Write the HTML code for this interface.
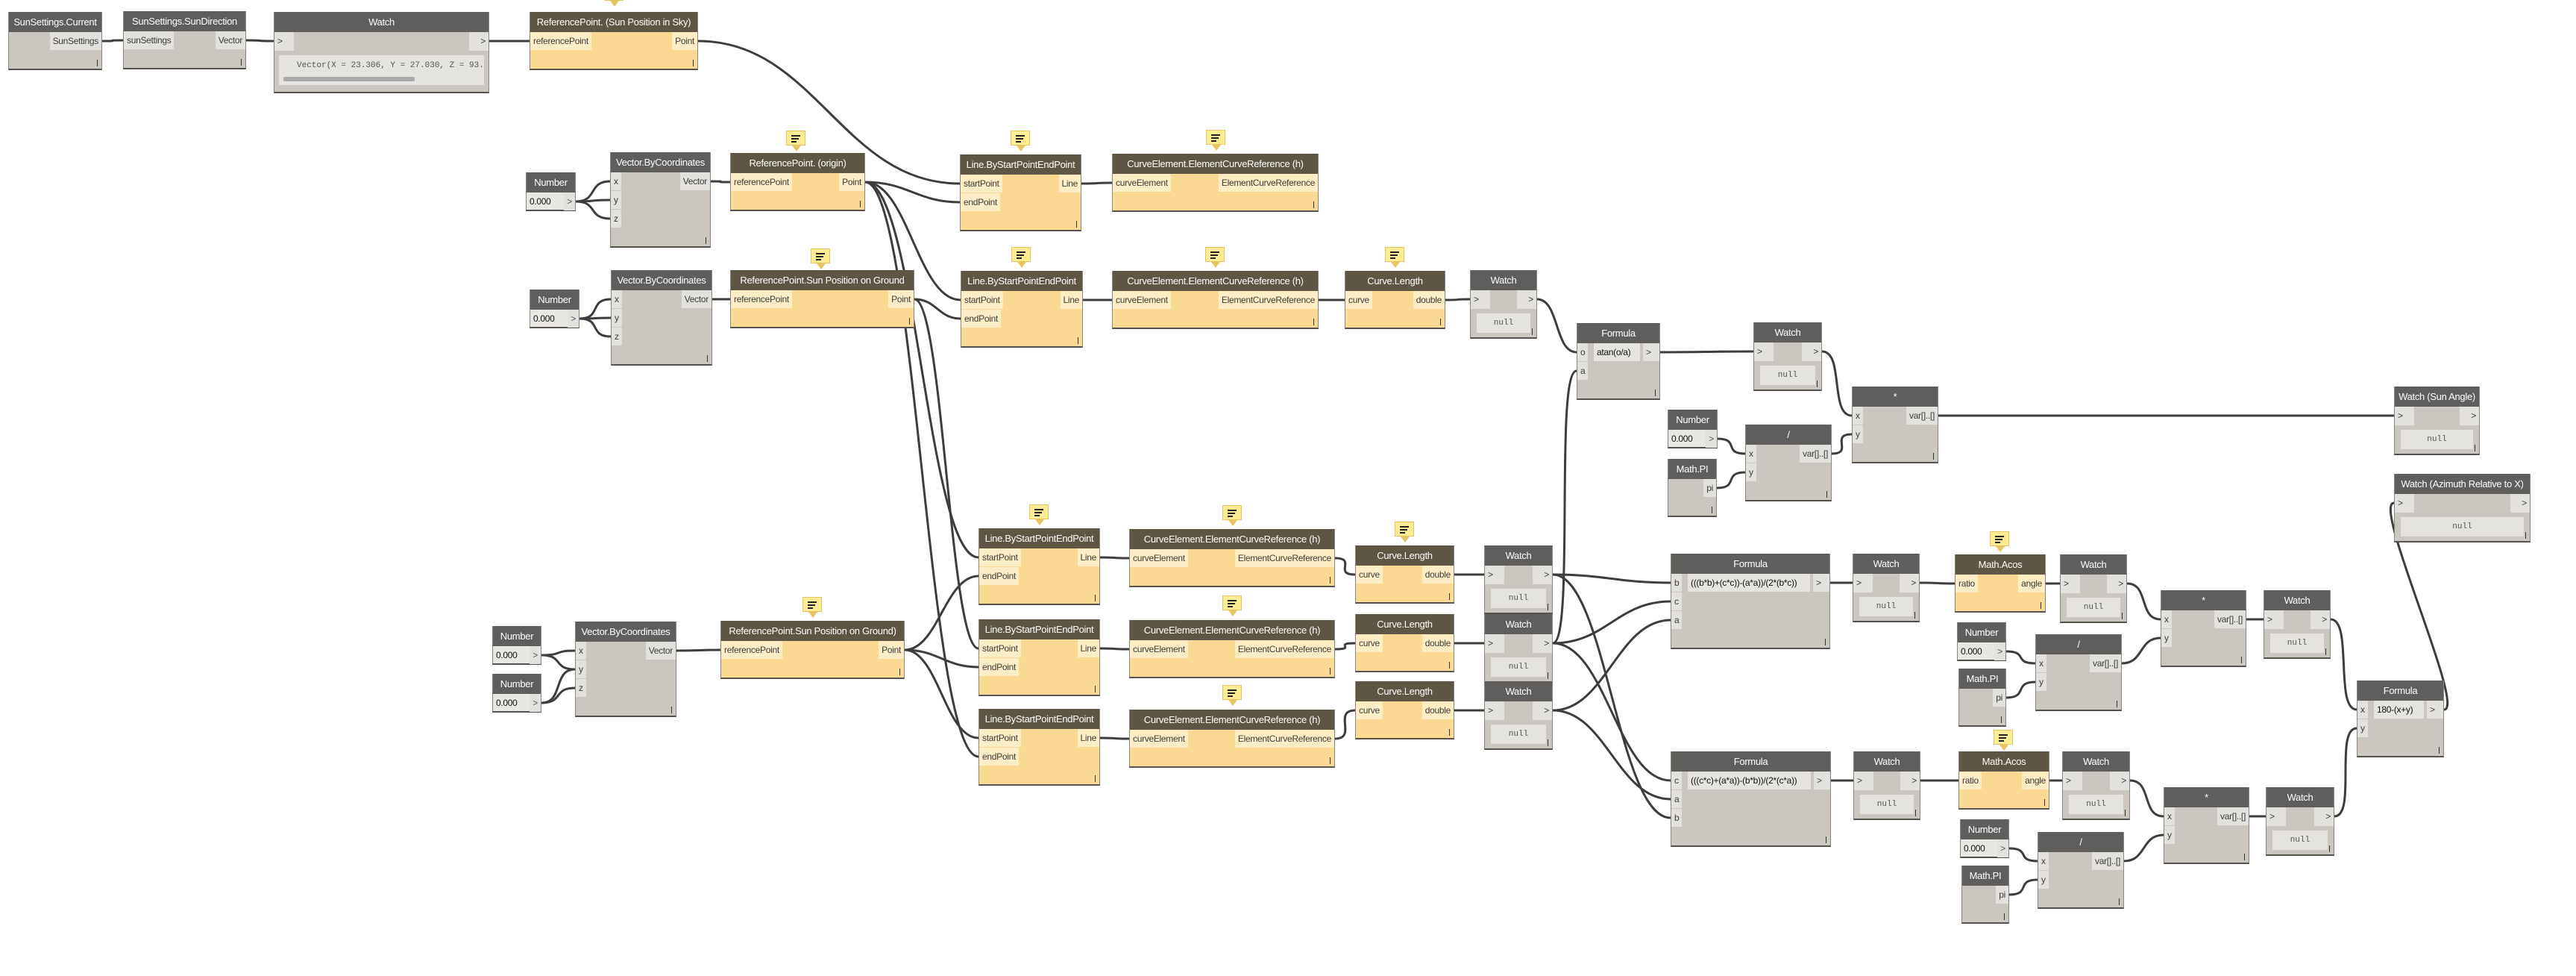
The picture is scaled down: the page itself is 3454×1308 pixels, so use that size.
<!DOCTYPE html>
<html><head><meta charset="utf-8"><style>
html,body{margin:0;padding:0;background:#fff;width:3454px;height:1308px;overflow:hidden;position:relative;font-family:"Liberation Sans",sans-serif}
.n{position:absolute;box-sizing:border-box;border-bottom:2px solid #55524d;border-left:1px solid #8a867f;border-right:1px solid #8a867f}
.n.g{background:#cbc7c0}.n.y{background:#fad993}
.h{position:absolute;left:0;top:0;right:0;height:27px;color:#fff;font-size:13px;line-height:27px;text-align:center;white-space:nowrap;overflow:hidden;letter-spacing:-0.3px}
.g .h{background:#5f5e5c}.y .h{background:#5e5544}
.p{position:absolute;height:24px;line-height:24px;font-size:12px;color:#3c3c3c;padding:0 4px;white-space:nowrap;letter-spacing:-0.3px}
.g .p{background:#e3e1dd}.y .p{background:#fdedc5}
.f{position:absolute;right:5px;bottom:3px;width:1px;height:9px;background:#333}
.nb{position:absolute;background:#e4e3df;font-family:"Liberation Mono",monospace;font-size:11px;color:#555;text-align:center}
.note{position:absolute;width:26px;height:20px;background:#fdec93;border:1px solid #e8c45f;box-sizing:border-box}
.note i{position:absolute;left:6px;width:12px;height:2px;background:#222}
.note:after{content:"";position:absolute;left:7px;top:19px;border-left:6px solid transparent;border-right:6px solid transparent;border-top:8px solid #e8c45f}
svg{position:absolute;left:0;top:0}
</style></head><body>
<svg id="s" width="3454" height="1308"></svg>
<div id="c"></div>
<script>
var N={},H='';
function nd(id,x,y,w,t,c,ins,outs,k,extra){
 var rows=Math.max(ins.length,outs.length,1),h;
 if(k=='num')h=52;else if(k=='watch')h=92;else if(k=='big')h=109;else h=27+25*rows+26;
 N[id]={x:x,y:y,w:w,h:h,k:k};
 var s='<div class="n '+c+'" style="left:'+x+'px;top:'+y+'px;width:'+w+'px;height:'+h+'px"><div class="h">'+t+'</div>';
 ins.forEach(function(l,i){s+='<div class="p" style="left:0;top:'+(27+25*i)+'px">'+l+'</div>'});
 outs.forEach(function(l,i){s+='<div class="p" style="right:0;top:'+(27+25*i)+'px">'+l+'</div>'});
 if(k=='watch'||k=='big'){s+='<div class="p" style="left:0;top:27px;width:18px;height:25px">&gt;</div><div class="p" style="right:0;top:27px;width:18px;height:25px;text-align:right">&gt;</div>';}
 if(k=='watch')s+='<div class="nb" style="left:8px;right:8px;top:58px;height:26px;line-height:26px">null</div>';
 if(k=='big')s+='<div class="nb" style="left:6px;right:6px;top:58px;height:40px;text-align:left;padding-left:24px;line-height:28px;box-sizing:border-box">Vector(X = 23.306, Y = 27.030, Z = 93.<div style="position:absolute;left:6px;top:29px;width:176px;height:6px;background:#aaa;border-radius:2px"></div></div>';
 if(k=='num')s+='<div class="p" style="left:0;top:27px;width:48px;height:23px;background:#e8e7e4;color:#111">'+extra+'</div><div class="p" style="right:0;top:27px;color:#555">&gt;</div>';
 if(k=='form')s+='<div class="p" style="left:22px;top:27px;right:26px;background:#e6e4e0;color:#111">'+extra+'</div><div class="p" style="right:0;top:27px;width:14px">&gt;</div>';
 if(k!='num'&&k!='big')s+='<div class="f"></div>';
 s+='</div>';H+=s;
}
function note(x,y){H+='<div class="note" style="left:'+(x-13)+'px;top:'+y+'px"><i style="top:5px"></i><i style="top:9px;width:10px"></i><i style="top:13px;width:7px"></i></div>';}
var G='g',Y='y',W='watch';
nd('ssc',11,16,126,'SunSettings.Current',G,[],['SunSettings']);
nd('ssd',165,15,165,'SunSettings.SunDirection',G,['sunSettings'],['Vector']);
nd('w1',367,16,289,'Watch',G,[],[],'big');
nd('sky',710,16,226,'ReferencePoint. (Sun Position in Sky)',Y,['referencePoint'],['Point']);
nd('n1',705,231,67,'Number',G,[],[],'num','0.000');
nd('v1',818,204,135,'Vector.ByCoordinates',G,['x','y','z'],['Vector']);
nd('n2',710,388,67,'Number',G,[],[],'num','0.000');
nd('v2',819,362,136,'Vector.ByCoordinates',G,['x','y','z'],['Vector']);
nd('org',979,205,181,'ReferencePoint. (origin)',Y,['referencePoint'],['Point']);
nd('g1',979,362,247,'ReferencePoint.Sun Position on Ground',Y,['referencePoint'],['Point']);
nd('L1',1287,207,163,'Line.ByStartPointEndPoint',Y,['startPoint','endPoint'],['Line']);
nd('CE1',1491,206,277,'CurveElement.ElementCurveReference (h)',Y,['curveElement'],['ElementCurveReference']);
nd('L2',1288,363,164,'Line.ByStartPointEndPoint',Y,['startPoint','endPoint'],['Line']);
nd('CE2',1491,363,277,'CurveElement.ElementCurveReference (h)',Y,['curveElement'],['ElementCurveReference']);
nd('CL2',1803,363,135,'Curve.Length',Y,['curve'],['double']);
nd('W2',1971,362,90,'Watch',G,[],[],W);
nd('F1',2114,433,112,'Formula',G,['o','a'],[],'form','atan(o/a)');
nd('Wa',2351,432,92,'Watch',G,[],[],W);
nd('Na',2236,549,67,'Number',G,[],[],'num','0.000');
nd('Pa',2236,615,66,'Math.PI',G,[],['pi']);
nd('Da',2340,569,116,'/',G,['x','y'],['var[]..[]']);
nd('Ma',2483,518,116,'*',G,['x','y'],['var[]..[]']);
nd('WS',3210,518,115,'Watch (Sun Angle)',G,[],[],W);
nd('WZ',3210,635,183,'Watch (Azimuth Relative to X)',G,[],[],W);
nd('n3',660,839,66,'Number',G,[],[],'num','0.000');
nd('n4',660,903,66,'Number',G,[],[],'num','0.000');
nd('v3',771,833,136,'Vector.ByCoordinates',G,['x','y','z'],['Vector']);
nd('g2',966,832,247,'ReferencePoint.Sun Position on Ground)',Y,['referencePoint'],['Point']);
[708,830,950].forEach(function(yy,i){
 nd('L'+(i+3),1312,yy,163,'Line.ByStartPointEndPoint',Y,['startPoint','endPoint'],['Line']);
 nd('CE'+(i+3),1514,yy+1,276,'CurveElement.ElementCurveReference (h)',Y,['curveElement'],['ElementCurveReference']);
});
[731,823,913].forEach(function(yy,i){
 nd('CL'+(i+3),1817,yy,133,'Curve.Length',Y,['curve'],['double']);
 nd('W'+(i+3),1990,yy,92,'Watch',G,[],[],W);
});
nd('FB',2240,742,214,'Formula',G,['b','c','a'],[],'form','(((b*b)+(c*c))-(a*a))/(2*(b*c))');
nd('WB',2484,742,90,'Watch',G,[],[],W);
nd('AB',2621,743,122,'Math.Acos',Y,['ratio'],['angle']);
nd('WB2',2762,743,90,'Watch',G,[],[],W);
nd('NB',2624,834,66,'Number',G,[],[],'num','0.000');
nd('PB',2626,896,64,'Math.PI',G,[],['pi']);
nd('DB',2729,850,116,'/',G,['x','y'],['var[]..[]']);
nd('MB',2897,791,115,'*',G,['x','y'],['var[]..[]']);
nd('WB3',3035,791,90,'Watch',G,[],[],W);
nd('F180',3160,912,117,'Formula',G,['x','y'],[],'form','180-(x+y)');
nd('FC',2240,1007,215,'Formula',G,['c','a','b'],[],'form','(((c*c)+(a*a))-(b*b))/(2*(c*a))');
nd('WC',2485,1007,90,'Watch',G,[],[],W);
nd('AC',2626,1007,122,'Math.Acos',Y,['ratio'],['angle']);
nd('WC2',2765,1007,91,'Watch',G,[],[],W);
nd('NC',2628,1098,66,'Number',G,[],[],'num','0.000');
nd('PC',2630,1160,64,'Math.PI',G,[],['pi']);
nd('DC',2732,1115,116,'/',G,['x','y'],['var[]..[]']);
nd('MC',2901,1055,115,'*',G,['x','y'],['var[]..[]']);
nd('WC3',3038,1055,92,'Watch',G,[],[],W);
[[823,-19],[1067,175],[1368,175],[1630,174],[1100,333],[1369,331],[1629,331],[1870,331],[1089,800],[1393,676],[1652,677],[1652,798],[1652,918],[1883,699],[2681,712],[2686,978]].forEach(function(p){note(p[0],p[1])});
document.getElementById('c').innerHTML=H;
var P='';
function w(a,ai,b,bi){var A=N[a],B=N[b];var x1=A.x+A.w,y1=A.y+27+25*ai+12,x2=B.x,y2=B.y+27+25*bi+12;
 var d=Math.max(30,Math.abs(x2-x1)*0.45);
 P+='<path d="M'+x1+' '+y1+'C'+(x1+d)+' '+y1+' '+(x2-d)+' '+y2+' '+x2+' '+y2+'"/>';}
w('ssc',0,'ssd',0);w('ssd',0,'w1',0);w('w1',0,'sky',0);
['n1','n2'].forEach(function(n,i){var v=['v1','v2'][i];w(n,0,v,0);w(n,0,v,1);w(n,0,v,2)});
w('n3',0,'v3',0);w('n3',0,'v3',1);w('n4',0,'v3',1);w('n4',0,'v3',2);
w('v1',0,'org',0);w('v2',0,'g1',0);w('v3',0,'g2',0);
w('sky',0,'L1',0);w('org',0,'L1',1);w('org',0,'L2',0);w('g1',0,'L2',1);
w('org',0,'L3',0);w('g2',0,'L3',1);w('g1',0,'L4',0);w('g2',0,'L4',1);w('g2',0,'L5',0);w('org',0,'L5',1);
w('L1',0,'CE1',0);w('L2',0,'CE2',0);w('CE2',0,'CL2',0);w('CL2',0,'W2',0);
for(var i=3;i<=5;i++){w('L'+i,0,'CE'+i,0);w('CE'+i,0,'CL'+i,0);w('CL'+i,0,'W'+i,0);}
w('W2',0,'F1',0);w('W4',0,'F1',1);w('F1',0,'Wa',0);w('Wa',0,'Ma',0);w('Na',0,'Da',0);w('Pa',0,'Da',1);w('Da',0,'Ma',1);w('Ma',0,'WS',0);
w('W3',0,'FB',0);w('W4',0,'FB',1);w('W5',0,'FB',2);
w('W4',0,'FC',0);w('W5',0,'FC',1);w('W3',0,'FC',2);
[['FB','WB','AB','WB2','NB','PB','DB','MB','WB3',0],['FC','WC','AC','WC2','NC','PC','DC','MC','WC3',1]].forEach(function(r){
 w(r[0],0,r[1],0);w(r[1],0,r[2],0);w(r[2],0,r[3],0);w(r[3],0,r[7],0);w(r[4],0,r[6],0);w(r[5],0,r[6],1);w(r[6],0,r[7],1);w(r[7],0,r[8],0);w(r[8],0,'F180',r[9]);});
w('F180',0,'WZ',0);
document.getElementById('s').innerHTML='<g fill="none" stroke="#3d3d3d" stroke-width="3">'+P+'</g>';
</script>
</body></html>
